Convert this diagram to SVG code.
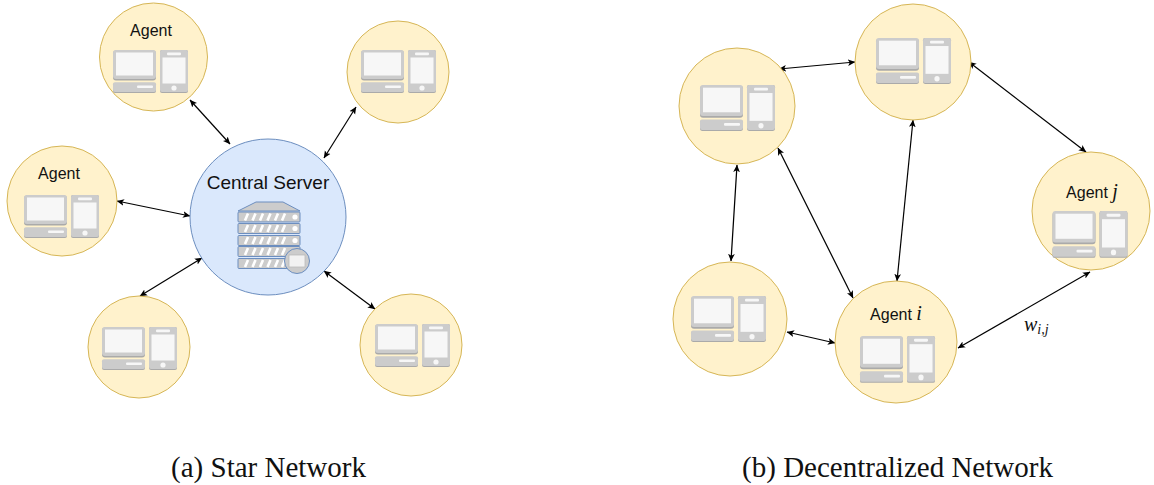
<svg xmlns="http://www.w3.org/2000/svg" width="1154" height="485" viewBox="0 0 1154 485">
<style>
.agent{fill:#fff2cc;stroke:#d6b656;stroke-width:1}
.server{fill:#dae8fc;stroke:#6c8ebf;stroke-width:1}
.lbl{font-family:"Liberation Sans",Arial,sans-serif;font-size:16px;fill:#111;text-anchor:middle}
.math{font-family:"Liberation Serif","Times New Roman",serif;font-style:italic}
.cap{font-family:"Liberation Serif","Times New Roman",serif;font-size:29px;fill:#111;text-anchor:middle}
.link{stroke:#000;stroke-width:1.200;fill:none;marker-start:url(#a);marker-end:url(#a)}
.g1{fill:#ccc}.g2{fill:#aaa}.w{fill:#f7f7f7}
.rack{fill:#ccc;stroke:#6c8ebf;stroke-width:1}
.hatch{stroke:#fff;stroke-width:2.600;fill:none}
</style>
<defs>
<marker id="a" viewBox="0 0 10 10" refX="9.500" refY="5" markerWidth="7.500" markerHeight="7.500" markerUnits="userSpaceOnUse" orient="auto-start-reverse">
<path d="M0 0.500L10 5L0 9.500L2.500 5Z" fill="#000"/>
</marker>
<g id="dev">
<rect x="0" y="0.600" width="43" height="30" rx="3" class="g2"/>
<rect x="0" y="0" width="43" height="29" rx="3" class="g1"/>
<rect x="3" y="2.500" width="37" height="23" class="w"/>
<rect x="0" y="33" width="43" height="10" rx="2" class="g2"/>
<rect x="0" y="32.300" width="43" height="9.700" rx="2" class="g1"/>
<rect x="24" y="35.500" width="16" height="2.600" rx="1" class="w"/>
<rect x="47" y="0" width="28" height="43" rx="2" class="g2"/>
<rect x="47" y="0" width="28" height="42" rx="2" class="g1"/>
<rect x="54" y="2.600" width="14" height="2.600" rx="1" class="w"/>
<rect x="49.500" y="7.500" width="23" height="26" class="w"/>
<circle cx="61" cy="38" r="2.600" class="w"/>
</g>
<g id="rackrow">
<rect x="0" y="0" width="62" height="10" rx="1" class="rack"/>
<path d="M7 8.500l3-7M14.500 8.500l3-7M22 8.500l3-7M29.500 8.500l3-7M37 8.500l3-7M44 8.500l3-7" class="hatch"/>
<circle cx="57" cy="5" r="2.600" fill="#fff"/>
</g>
</defs>
<g id="connectors">
<path class="link" d="M190 100L230 144"/>
<path class="link" d="M356 107L324 158"/>
<path class="link" d="M117 201L190 216"/>
<path class="link" d="M140 296L202 258"/>
<path class="link" d="M324 271L375 309"/>
<path class="link" d="M779 69L855 62"/>
<path class="link" d="M969 62L1086 152"/>
<path class="link" d="M913 120L897 281"/>
<path class="link" d="M778 148L853 298"/>
<path class="link" d="M737 165L731 261"/>
<path class="link" d="M787 332L835 343"/>
<path class="link" d="M958 348L1090 272"/>
</g>
<g id="server">
<circle class="server" cx="268" cy="217" r="78"/>
<text class="lbl" x="268" y="189" style="font-size:19px">Central Server</text>
<path class="rack" d="M238 211L256 202H283L300 211Z"/>
<use href="#rackrow" x="238" y="212"/>
<use href="#rackrow" x="238" y="223.500"/>
<use href="#rackrow" x="238" y="235.500"/>
<use href="#rackrow" x="238" y="246.500"/>
<use href="#rackrow" x="238" y="258.500"/>
<circle cx="297" cy="261" r="12.500" fill="#ccc" stroke="#6c8ebf"/>
<rect x="289" y="255" width="16" height="12" fill="#f2f2f2" stroke="#bbb" stroke-width="0.800"/>
</g>
<g id="star-agent-1"><circle class="agent" cx="153.500" cy="57" r="54"/><text class="lbl" x="151" y="36">Agent</text><use href="#dev" x="113" y="50"/></g>
<g id="star-agent-2"><circle class="agent" cx="398" cy="72" r="51"/><use href="#dev" x="361" y="50"/></g>
<g id="star-agent-3"><circle class="agent" cx="62" cy="201" r="55"/><text class="lbl" x="59" y="179">Agent</text><use href="#dev" x="24" y="195"/></g>
<g id="star-agent-4"><circle class="agent" cx="139" cy="347" r="51"/><use href="#dev" x="102" y="327"/></g>
<g id="star-agent-5"><circle class="agent" cx="411" cy="345" r="51"/><use href="#dev" x="375" y="324"/></g>
<g id="dec-agent-a"><circle class="agent" cx="737" cy="106" r="58"/><use href="#dev" transform="translate(700 85) scale(1 1.070)"/></g>
<g id="dec-agent-b"><circle class="agent" cx="913" cy="62" r="58"/><use href="#dev" transform="translate(876 38) scale(1 1.070)"/></g>
<g id="dec-agent-d"><circle class="agent" cx="730" cy="319" r="57"/><use href="#dev" transform="translate(691 296) scale(1 1.070)"/></g>
<g id="dec-agent-i"><circle class="agent" cx="896" cy="342" r="61"/><text class="lbl" x="896" y="320">Agent <tspan class="math" style="font-size:20px">i</tspan></text><use href="#dev" transform="translate(860 336) scale(1 1.090)"/></g>
<g id="dec-agent-j"><circle class="agent" cx="1091" cy="211" r="59"/><text class="lbl" x="1092" y="198">Agent <tspan class="math" style="font-size:20px">j</tspan></text><use href="#dev" transform="translate(1052.500 211) scale(1 1.090)"/></g>
<text class="math" x="1024" y="331" font-size="20" fill="#111">w<tspan font-size="14" dy="3">i,j</tspan></text>
<text class="cap" x="268.500" y="477">(a) Star Network</text>
<text class="cap" x="897.500" y="477">(b) Decentralized Network</text>
</svg>
